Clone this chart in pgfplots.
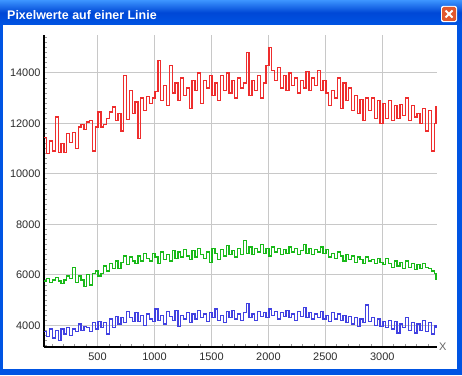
\documentclass[border=0pt]{standalone}
\usepackage{fontspec}
\setmainfont{Liberation Sans}
\usepackage{pgfplots}
\pgfplotsset{compat=1.18}
\usepackage{pgfplotstable}
\definecolor{xpblue}{RGB}{0,84,227}
\definecolor{xpdark}{RGB}{0,72,214}
\definecolor{xplight}{RGB}{61,149,255}
\definecolor{closered}{RGB}{226,88,46}
\definecolor{redc}{RGB}{238,45,45}
\definecolor{greenc}{RGB}{25,185,25}
\definecolor{bluec}{RGB}{65,65,225}
\definecolor{gridc}{RGB}{200,200,200}
\definecolor{labc}{RGB}{45,45,45}

\pgfplotstableread{
x r g b
30 11450 5750 3750
55 10800 5850 3550
80 11300 5700 3850
105 10900 5800 3500
130 12250 5900 3800
155 10850 5750 3400
180 11200 5650 3850
205 10850 5800 3650
230 11600 5950 3900
255 11250 5850 3600
280 11650 6300 3850
305 11000 5700 3750
330 11850 5950 4050
355 11950 5800 3800
380 11750 5550 3950
405 12050 6000 3900
430 12100 5600 3750
455 10900 6050 4100
480 11850 6150 3850
505 12450 5950 4150
530 11850 6050 3900
555 11950 6350 4100
580 12200 6150 3650
605 12450 6450 4250
630 12650 6250 3900
655 12100 6550 4350
680 12400 6250 4050
705 11700 6500 4300
730 13900 6750 4100
755 12150 6400 4550
780 13300 6700 4300
805 12400 6550 4150
830 12850 6450 4500
855 11400 6750 4150
880 13000 6550 4400
905 12500 6850 4000
930 13050 6650 4450
955 12800 6550 4250
980 13000 6850 4150
1005 13250 6700 4650
1030 14500 6450 4200
1055 12900 6900 4400
1080 13500 6600 4050
1105 12700 6800 4550
1130 14300 6550 4350
1155 13200 6950 4200
1180 13600 6650 4600
1205 12900 6900 3950
1230 13800 6700 4400
1255 13100 7000 4250
1280 13400 6750 4500
1305 12600 6600 4100
1330 13700 6950 4450
1355 13300 6700 4250
1380 14000 7050 4600
1405 12800 6800 4300
1430 13700 6650 4450
1455 13400 6900 4150
1480 13900 6500 4500
1505 13100 7050 4300
1530 13600 6850 4650
1555 12900 6600 4200
1580 13900 7000 4400
1605 13300 6750 4100
1630 14000 7150 4550
1655 13200 6800 4300
1680 13700 6950 4600
1705 13000 6700 4250
1730 13800 7050 4450
1755 13400 6800 4200
1780 13600 7350 4500
1805 14800 6850 4850
1830 13100 7100 4300
1855 13700 6800 4450
1880 13300 7050 4200
1905 13900 6900 4550
1930 13000 7200 4350
1955 13600 6850 4500
1980 14300 7050 4300
2005 15000 6750 4650
2030 14100 7100 4400
2055 13700 6900 4550
2080 14200 7050 4250
2105 13400 6800 4500
2130 13900 7000 4350
2155 13300 6850 4600
2180 14000 7100 4300
2205 13500 6900 4450
2230 13800 7050 4200
2255 13200 6800 4550
2280 13700 6950 4350
2305 13400 7200 4700
2330 14050 6850 4300
2355 13300 7050 4500
2380 13800 6800 4250
2405 13500 7000 4450
2430 14100 6900 4300
2455 13300 7100 4550
2480 13700 6850 4250
2505 13200 7000 4400
2530 12700 6700 4150
2555 13300 6850 4500
2580 13000 6650 4250
2605 13800 6900 4450
2630 12600 6750 4200
2655 13600 6550 4400
2680 12900 6800 4100
2705 13400 6600 4350
2730 12500 6750 4050
2755 13100 6500 4300
2780 12400 6700 3950
2805 12950 6600 4250
2830 12100 6450 4100
2855 13000 6700 4800
2880 12500 6550 4150
2905 13000 6600 4300
2930 12200 6450 4000
2955 12900 6650 4250
2980 12000 6500 3950
3005 12800 6400 4150
3030 12200 6650 3900
3055 12900 6450 4200
3080 12100 6300 3850
3105 12700 6550 4150
3130 12200 6350 3700
3155 12750 6500 4050
3180 12300 6250 3900
3205 13000 6550 4300
3230 12100 6300 3800
3255 12700 6450 4100
3280 12250 6200 3700
3305 12400 6400 4050
3330 12000 6250 3800
3355 12600 6450 4200
3380 11700 6300 3750
3405 12500 6250 4100
3430 10900 6150 3650
3455 12000 6050 4000
3470 12700 5800 3900
}\data

\begin{document}
\begin{tikzpicture}[x=1bp,y=1bp]
\useasboundingbox (0,0) rectangle (462,375);
% window frame
\fill[xpblue] (0,0) rectangle (462,375);
\shade[top color=xplight, bottom color=xpblue, middle color=xpdark] (0,350) rectangle (462,375);
\fill[white] (3,6) rectangle (457,350);
% close button
\fill[rounded corners=2bp, white] (441,353) rectangle (457,369);
\fill[rounded corners=1.5bp, closered] (442,354) rectangle (456,368);
\draw[white, line width=2bp] (445.5,357.5) -- (452.5,364.5) (445.5,364.5) -- (452.5,357.5);
\node[anchor=base west, inner sep=0pt, text=white, font=\bfseries\fontsize{12.5}{14}\selectfont] at (7,356) {Pixelwerte auf einer Linie};
\begin{axis}[
  at={(44bp,28bp)}, anchor=south west, scale only axis,
  width=393bp, height=312bp,
  xmin=30, xmax=3480, ymin=3140, ymax=15500,
  axis lines=left, axis line style={-, black, line width=1.2bp},
  xtick={0,500,...,3500}, ytick={2000,4000,...,16000},
  scaled ticks=false,
  minor x tick num=4, minor y tick num=9,
  grid=major, major grid style={gridc, line width=1bp},
  tick align=inside, major tick length=0pt, minor tick length=3bp,
  minor tick style={black!40, line width=0.8bp},
  tick label style={font=\fontsize{11}{12}\selectfont, text=labc},
  xticklabel style={yshift=-2bp},
  /pgf/number format/1000 sep={}, /pgf/number format/assume math mode=true,
  xlabel={X}, xlabel style={at={(axis description cs:1,0)}, anchor=west, inner sep=2bp, font=\fontsize{11}{12}\selectfont, text=black!60},
]
\addplot[const plot, redc, line width=1.3bp] table[x=x,y=r]{\data};
\addplot[const plot, greenc, line width=1.3bp] table[x=x,y=g]{\data};
\addplot[const plot, bluec, line width=1.3bp] table[x=x,y=b]{\data};
\end{axis}
\end{tikzpicture}
\end{document}
